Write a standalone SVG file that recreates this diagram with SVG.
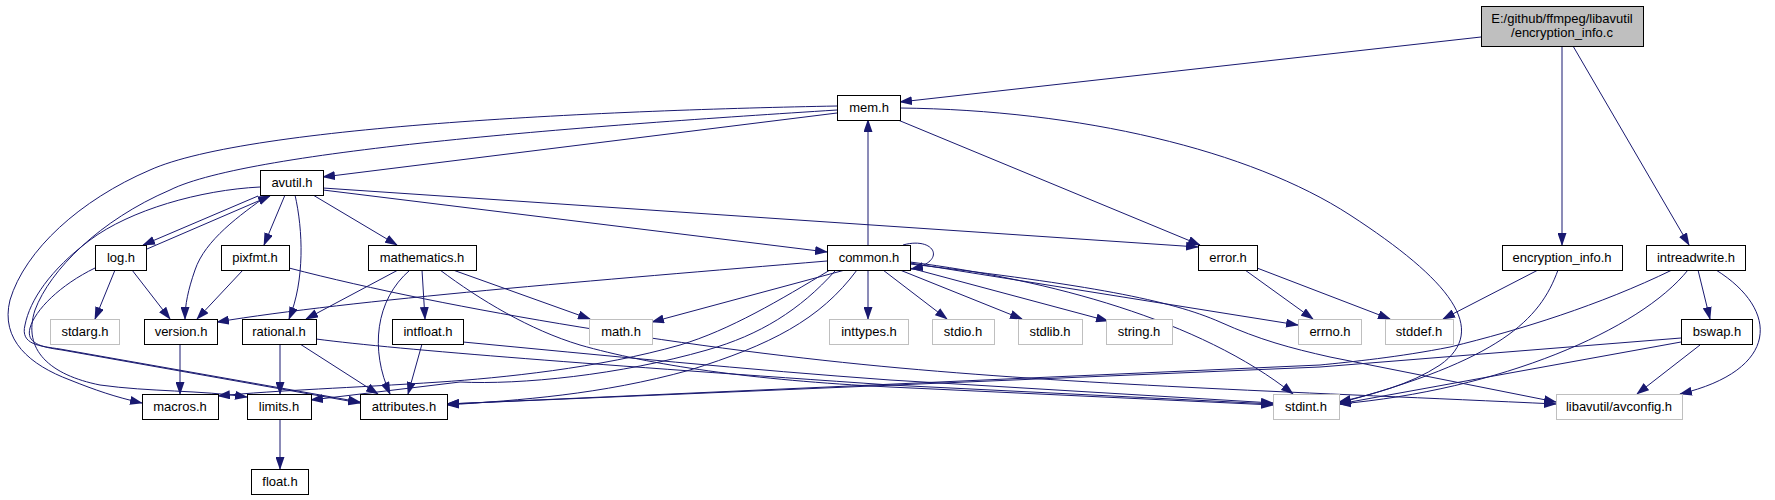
<svg xmlns="http://www.w3.org/2000/svg" width="1775" height="500" viewBox="0 0 1775 500">
<defs>
<marker id="a" markerWidth="13" markerHeight="9" refX="12" refY="4.5" orient="auto" markerUnits="userSpaceOnUse"><path d="M0,0 L13,4.5 L0,9 z" fill="#191970"/></marker>
<style>
.n rect{fill:#fff;stroke:#000;stroke-width:1}
.g rect{fill:#fff;stroke:#bfbfbf;stroke-width:1}
.r rect{fill:#bfbfbf;stroke:#000;stroke-width:1}
text{font-family:"Liberation Sans",Arial,sans-serif;font-size:13px;text-anchor:middle;fill:#000}
.e path{fill:none;stroke:#191970;stroke-width:1;marker-end:url(#a)}
</style>
</defs>
<rect x="0" y="0" width="1775" height="500" fill="#fff"/>
<g class="e" id="edges">
<path d="M1481,37 L900,102"/>
<path d="M1562,46 L1562,245"/>
<path d="M1573,46 L1689,245"/>
<path d="M837,113 L323,177"/>
<path d="M898,120 L1200,245"/>
<path d="M900,108 C1080,110 1250,150 1350,215 C1450,280 1490,330 1440,365 C1410,385 1370,395 1339,402"/>
<path d="M837,106 C620,110 250,125 150,170 C80,200 25,250 10,300 C0,340 30,365 70,380 C95,390 115,397 142,403"/>
<path d="M837,110 C600,125 250,150 170,190 C100,220 50,270 35,310 C22,350 50,375 100,385 C150,392 200,390 247,397"/>
<path d="M260,187 C200,190 130,210 90,240 C50,270 30,300 25,325 C20,345 40,346 60,349 L360,402"/>
<path d="M95,268 C60,285 35,310 30,328 C26,343 40,347 62,350 L360,403"/>
<path d="M258,196 L143,245"/>
<path d="M147,249 L270,196"/>
<path d="M268,195 C240,215 205,240 195,270 C188,290 185,305 185,319"/>
<path d="M285,195 L264,245"/>
<path d="M295,195 C303,230 305,280 289,319"/>
<path d="M313,195 L397,245"/>
<path d="M323,188 L1198,247"/>
<path d="M323,190 L827,252"/>
<path d="M868,245 L868,120"/>
<path d="M903,245 C935,236 948,262 911,269"/>
<path d="M868,270 L868,319"/>
<path d="M845,270 L652,322"/>
<path d="M883,270 L947,319"/>
<path d="M900,270 L1022,319"/>
<path d="M910,268 L1108,321"/>
<path d="M910,263 L1298,325"/>
<path d="M910,262 C1050,280 1200,320 1293,394"/>
<path d="M910,264 C1090,285 1170,300 1220,322 C1260,340 1290,348 1330,357 L1556,402"/>
<path d="M827,261 C600,280 350,300 217,322"/>
<path d="M830,270 C780,300 730,330 680,345 C600,368 500,378 440,382 C350,388 280,390 218,396"/>
<path d="M835,271 C800,310 760,335 707,350 C620,375 520,385 460,382 L311,400"/>
<path d="M857,270 C820,320 770,345 690,370 C600,395 520,400 447,405"/>
<path d="M453,270 L590,319"/>
<path d="M398,270 L306,319"/>
<path d="M422,270 L425,319"/>
<path d="M410,270 C375,300 370,350 390,394"/>
<path d="M440,270 C480,300 530,330 580,345 C650,365 750,380 890,387 L1273,405"/>
<path d="M422,344 L408,394"/>
<path d="M463,342 C600,355 750,370 890,380 L1273,403"/>
<path d="M316,339 C400,350 600,365 890,385 L1273,404"/>
<path d="M280,344 L280,394"/>
<path d="M300,344 L378,394"/>
<path d="M243,270 L197,319"/>
<path d="M289,268 C450,310 700,350 900,368 S1300,392 1556,404"/>
<path d="M115,270 L95,319"/>
<path d="M132,270 L170,319"/>
<path d="M180,344 L180,394"/>
<path d="M280,419 L280,469"/>
<path d="M1245,270 L1313,319"/>
<path d="M1257,268 L1390,319"/>
<path d="M1538,270 L1443,319"/>
<path d="M1558,270 C1540,320 1500,360 1339,403"/>
<path d="M1688,270 C1640,330 1500,390 1339,404"/>
<path d="M1698,270 L1710,319"/>
<path d="M1716,270 C1780,310 1780,370 1680,394"/>
<path d="M1672,270 C1600,305 1520,330 1450,347 C1400,357 1350,362 1320,365 L447,404"/>
<path d="M1681,338 L1320,367 L447,404"/>
<path d="M1681,342 L1339,404"/>
<path d="M1700,345 L1637,394"/>
</g>
<g id="root" class="r"><rect x="1481.5" y="6.5" width="162" height="40"/><text x="1562" y="23">E:/github/ffmpeg/libavutil</text><text x="1562" y="37">/encryption_info.c</text></g>
<g id="mem" class="n"><rect x="837.5" y="95.5" width="63" height="25"/><text x="869" y="112">mem.h</text></g>
<g id="avutil" class="n"><rect x="260.5" y="170.5" width="63" height="25"/><text x="292" y="187">avutil.h</text></g>
<g id="log" class="n"><rect x="95.5" y="245.5" width="51" height="25"/><text x="121" y="262">log.h</text></g>
<g id="pixfmt" class="n"><rect x="221.5" y="245.5" width="68" height="25"/><text x="255" y="262">pixfmt.h</text></g>
<g id="mathematics" class="n"><rect x="368.5" y="245.5" width="108" height="25"/><text x="422" y="262">mathematics.h</text></g>
<g id="common" class="n"><rect x="827.5" y="245.5" width="83" height="25"/><text x="869" y="262">common.h</text></g>
<g id="error" class="n"><rect x="1198.5" y="245.5" width="59" height="25"/><text x="1228" y="262">error.h</text></g>
<g id="encryption_info" class="n"><rect x="1502.5" y="245.5" width="120" height="25"/><text x="1562" y="262">encryption_info.h</text></g>
<g id="intreadwrite" class="n"><rect x="1646.5" y="245.5" width="99" height="25"/><text x="1696" y="262">intreadwrite.h</text></g>
<g id="stdarg" class="g"><rect x="50.5" y="319.5" width="69" height="25"/><text x="85" y="336">stdarg.h</text></g>
<g id="version" class="n"><rect x="144.5" y="319.5" width="73" height="25"/><text x="181" y="336">version.h</text></g>
<g id="rational" class="n"><rect x="242.5" y="319.5" width="74" height="25"/><text x="279" y="336">rational.h</text></g>
<g id="intfloat" class="n"><rect x="392.5" y="319.5" width="71" height="25"/><text x="428" y="336">intfloat.h</text></g>
<g id="math" class="g"><rect x="589.5" y="319.5" width="63" height="25"/><text x="621" y="336">math.h</text></g>
<g id="inttypes" class="g"><rect x="829.5" y="319.5" width="79" height="25"/><text x="869" y="336">inttypes.h</text></g>
<g id="stdio" class="g"><rect x="932.5" y="319.5" width="62" height="25"/><text x="963" y="336">stdio.h</text></g>
<g id="stdlib" class="g"><rect x="1018.5" y="319.5" width="64" height="25"/><text x="1050" y="336">stdlib.h</text></g>
<g id="string" class="g"><rect x="1106.5" y="319.5" width="66" height="25"/><text x="1139" y="336">string.h</text></g>
<g id="errno" class="g"><rect x="1298.5" y="319.5" width="63" height="25"/><text x="1330" y="336">errno.h</text></g>
<g id="stddef" class="g"><rect x="1385.5" y="319.5" width="68" height="25"/><text x="1419" y="336">stddef.h</text></g>
<g id="bswap" class="n"><rect x="1681.5" y="319.5" width="71" height="25"/><text x="1717" y="336">bswap.h</text></g>
<g id="macros" class="n"><rect x="142.5" y="394.5" width="76" height="25"/><text x="180" y="411">macros.h</text></g>
<g id="limits" class="n"><rect x="247.5" y="394.5" width="64" height="25"/><text x="279" y="411">limits.h</text></g>
<g id="attributes" class="n"><rect x="360.5" y="394.5" width="87" height="25"/><text x="404" y="411">attributes.h</text></g>
<g id="stdint" class="g"><rect x="1273.5" y="394.5" width="66" height="25"/><text x="1306" y="411">stdint.h</text></g>
<g id="avconfig" class="g"><rect x="1556.5" y="394.5" width="126" height="25"/><text x="1619" y="411">libavutil/avconfig.h</text></g>
<g id="float" class="n"><rect x="251.5" y="469.5" width="57" height="25"/><text x="280" y="486">float.h</text></g>
</svg>
